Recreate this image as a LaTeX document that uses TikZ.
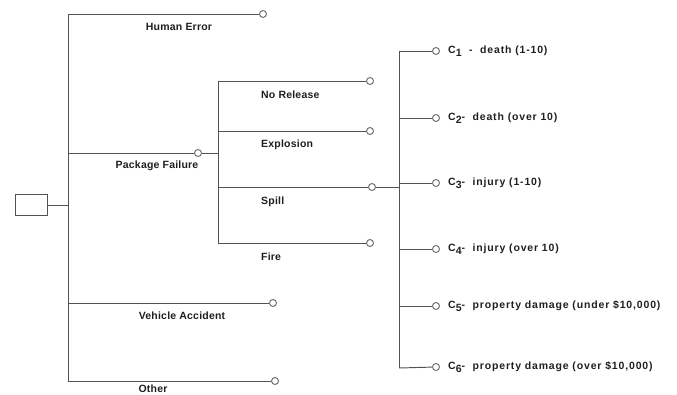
\documentclass[tikz,border=0pt]{standalone}
\usepackage{fontspec}
\setmainfont{Liberation Sans}
\newfontfamily\leftfont{Liberation Sans}[LetterSpace=2]
\newfontfamily\rightfont{Liberation Sans}[LetterSpace=8]
\begin{document}
\begin{tikzpicture}[x=1pt,y=-1pt,
  ln/.style={draw=black!68, line width=0.95pt},
  endc/.style={circle, draw=black!55, line width=1pt, fill=white, inner sep=0pt, minimum size=7pt},
  lab/.style={font=\leftfont\fontsize{10.5}{12}\selectfont\bfseries, text=black!88, inner sep=0pt},
  sublab/.style={lab, anchor=west},
  outlab/.style={font=\rightfont\fontsize{10.5}{12}\selectfont\bfseries, text=black!88, inner sep=0pt, anchor=west}]
\useasboundingbox (0,0) rectangle (677,395);
% root
\node[draw=black!68, line width=0.95pt, minimum width=32pt, minimum height=21pt, inner sep=0pt] (root) at (31,205) {};
% first trunk
\coordinate (t1) at (68,205);
\coordinate (t1a) at (68,14);
\coordinate (t1b) at (68,153);
\coordinate (t1c) at (68,303);
\coordinate (t1d) at (68,381);
\node[endc] (he) at (263,14) {};
\node[endc] (pf) at (198,153) {};
\node[endc] (va) at (273,303) {};
\node[endc] (ot) at (275,381) {};
\draw[ln] (root) -- (t1);
\draw[ln] (t1a) -- (t1d);
\draw[ln] (t1a) -- (he);
\draw[ln] (t1b) -- (pf);
\draw[ln] (t1c) -- (va);
\draw[ln] (t1d) -- (ot);
\node[lab] (lhe) at (179,27) {Human Error};
\node[lab] (lpf) at (157,166) {Package Failure};
\node[lab] (lva) at (182,316) {Vehicle Accident};
\node[lab] (lot) at (153,389) {Other};
% second trunk
\coordinate (t2) at (218,153);
\coordinate (t2a) at (218,81);
\coordinate (t2b) at (218,131);
\coordinate (t2c) at (218,187);
\coordinate (t2d) at (218,243);
\node[endc] (nr) at (370,81) {};
\node[endc] (ex) at (370,131) {};
\node[endc] (sp) at (372,187) {};
\node[endc] (fi) at (370,243) {};
\draw[ln] (pf) -- (t2);
\draw[ln] (t2a) -- (t2d);
\draw[ln] (t2a) -- (nr);
\draw[ln] (t2b) -- (ex);
\draw[ln] (t2c) -- (sp);
\draw[ln] (t2d) -- (fi);
\node[sublab] (lnr) at (261,95) {No Release};
\node[sublab] (lex) at (261,145) {Explosion};
\node[sublab] (lsp) at (261,202) {Spill};
\node[sublab] (lfi) at (261,257) {Fire};
% third trunk
\coordinate (t3) at (399,187);
\coordinate (t3a) at (399,51);
\coordinate (t3b) at (399,118);
\coordinate (t3c) at (399,183);
\coordinate (t3d) at (399,249);
\coordinate (t3e) at (399,306);
\coordinate (t3f) at (399,368);
\node[endc] (c1) at (436,51) {};
\node[endc] (c2) at (436,118) {};
\node[endc] (c3) at (436,183) {};
\node[endc] (c4) at (436,249) {};
\node[endc] (c5) at (436,306) {};
\node[endc] (c6) at (436,367) {};
\draw[ln] (sp) -- (t3);
\draw[ln] (t3a) -- (t3f);
\draw[ln] (t3a) -- (c1);
\draw[ln] (t3b) -- (c2);
\draw[ln] (t3c) -- (c3);
\draw[ln] (t3d) -- (c4);
\draw[ln] (t3e) -- (c5);
\draw[ln] (t3f) -- (c6);
\node[outlab] (lc1) at (448,51) {C\raisebox{-3pt}{1}\ \ -\ \ death (1-10)};
\node[outlab] (lc2) at (448,118) {C\raisebox{-3pt}{2}-\ \ death (over 10)};
\node[outlab] (lc3) at (448,183) {C\raisebox{-3pt}{3}-\ \ injury (1-10)};
\node[outlab] (lc4) at (448,249) {C\raisebox{-3pt}{4}-\ \ injury (over 10)};
\node[outlab] (lc5) at (448,306) {C\raisebox{-3pt}{5}-\ \ property damage (under \$10,000)};
\node[outlab] (lc6) at (448,367) {C\raisebox{-3pt}{6}-\ \ property damage (over \$10,000)};
\end{tikzpicture}
\end{document}
